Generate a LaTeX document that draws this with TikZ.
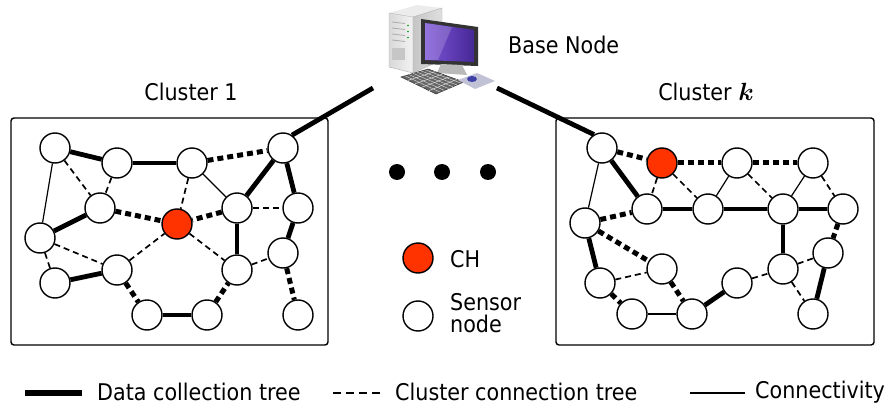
\documentclass[tikz,border=0pt]{standalone}
\usepackage{amsmath}
\usepackage{fontspec}
\setmainfont{DejaVu Sans Condensed}
\usetikzlibrary{calc}
\definecolor{chred}{RGB}{255,51,0}
\begin{document}
\begin{tikzpicture}[x=1pt,y=-1pt,
  sn/.style={circle,draw,line width=1.4pt,fill=white,minimum size=30pt,inner sep=0pt},
  ch/.style={sn,fill=chred},
  tree/.style={line width=4.8pt},
  link/.style={line width=1.2pt},
  cct/.style={line width=1.7pt,dash pattern=on 6pt off 4pt},
  bridge/.style={line width=5pt,dash pattern=on 6pt off 4pt},
  lbl/.style={font=\fontsize{23}{27}\selectfont,inner sep=0pt},
  cbox/.style={draw,line width=1.4pt,rounded corners=3pt}]
\useasboundingbox (0,0) rectangle (886,406);

% cluster frames
\draw[cbox] (11,118) rectangle (328,345);
\draw[cbox] (556,118) rectangle (874,345);

% cluster 1 nodes
\node[sn] (A) at (55,148) {};
\node[sn] (B) at (117,163) {};
\node[sn] (C) at (192,163) {};
\node[sn] (D) at (283,148) {};
\node[sn] (E) at (100,208) {};
\node[ch] (F) at (177,224) {};
\node[sn] (G) at (237,208) {};
\node[sn] (H) at (298,208) {};
\node[sn] (I) at (40,238) {};
\node[sn] (J) at (283,253) {};
\node[sn] (K) at (117,270) {};
\node[sn] (L) at (237,270) {};
\node[sn] (M) at (55,283) {};
\node[sn] (N) at (147,315) {};
\node[sn] (O) at (207,315) {};
\node[sn] (P) at (298,315) {};

% cluster 1 links
\foreach \u/\v in {A/B,B/C,D/G,D/H,H/J,E/I,K/M,G/L,N/O}
  \draw[tree] (\u) -- (\v);
\foreach \u/\v in {C/D,E/F,G/F,K/N,O/L,J/P}
  \draw[bridge] (\u) -- (\v);
\foreach \u/\v in {A/E,B/E,C/F,G/H,I/K,I/M,K/F,F/L,L/J}
  \draw[cct] (\u) -- (\v);
\foreach \u/\v in {A/I,C/G}
  \draw[link] (\u) -- (\v);

% cluster k nodes
\node[sn] (a) at (602,148) {};
\node[ch] (b) at (662,163) {};
\node[sn] (c) at (737,163) {};
\node[sn] (d) at (813,163) {};
\node[sn] (e) at (647,209) {};
\node[sn] (f) at (708,209) {};
\node[sn] (g) at (783,209) {};
\node[sn] (h) at (843,209) {};
\node[sn] (i) at (585,223) {};
\node[sn] (j) at (828,253) {};
\node[sn] (k) at (662,269) {};
\node[sn] (l) at (783,269) {};
\node[sn] (m) at (737,283) {};
\node[sn] (n) at (600,283) {};
\node[sn] (o) at (632,314) {};
\node[sn] (p) at (692,314) {};
\node[sn] (q) at (813,314) {};

% cluster k links
\foreach \u/\v in {a/e,e/f,f/g,g/h,i/n,p/m,l/g,j/q}
  \draw[tree] (\u) -- (\v);
\foreach \u/\v in {a/b,b/c,c/d,i/e,i/k,n/o,k/p,h/j}
  \draw[bridge] (\u) -- (\v);
\foreach \u/\v in {b/e,b/f,c/g,d/h,n/k,m/l,l/j,l/q}
  \draw[cct] (\u) -- (\v);
\foreach \u/\v in {a/i,c/f,d/g,o/p}
  \draw[link] (\u) -- (\v);

% base station computer
\fill[gray!15] (389,13) -- (417,5) -- (442,8) -- (413,17) -- cycle;
\shade[left color=gray!30,right color=gray!10,draw=gray!60,line width=0.4pt]
  (389,13) -- (413,17) -- (413,73) -- (389,67) -- cycle;
\shade[left color=gray!45,right color=gray!25,draw=gray!60,line width=0.4pt]
  (413,17) -- (442,8) -- (442,60) -- (413,73) -- cycle;
\foreach \yy in {22,28,34,40}
  \draw[gray!65,line width=0.8pt] (392,\yy) -- (405,\yy+1.5);
\foreach \yy in {24,30,36}
  \fill[green!60!black] (408,\yy+1.5) circle (0.9pt);
\fill[gray!45] (392,48) rectangle (405,60);
\fill[black!80] (421,19) -- (478,27) -- (478,66) -- (421,64) -- cycle;
\shade[left color={rgb,255:red,125;green,85;blue,215},right color={rgb,255:red,70;green,40;blue,150}]
  (425,23) -- (474,30) -- (474,62) -- (425,60) -- cycle;
\fill[white,opacity=0.18] (425,23) -- (452,27) -- (438,60) -- (425,60) -- cycle;
\fill[gray!55] (441,64) -- (462,65) -- (467,75) -- (437,73) -- cycle;
\fill[black!60,draw=black!80,line width=0.5pt]
  (401,77) -- (428,69) -- (464,82) -- (436,94) -- cycle;
\foreach \t in {0.2,0.4,0.6,0.8}
  \draw[gray!25,line width=0.5pt] ($(401,77)!\t!(436,94)$) -- ($(428,69)!\t!(464,82)$);
\foreach \t in {0.15,0.3,0.45,0.6,0.75,0.9}
  \draw[gray!25,line width=0.4pt] ($(401,77)!\t!(428,69)$) -- ($(436,94)!\t!(464,82)$);
\fill[blue!20!gray!40] (458,80) -- (477,73) -- (495,81) -- (475,89) -- cycle;
\fill[blue!55!black!75] (472,79) ellipse (5pt and 3pt);
\coordinate (bl) at (373,88);
\coordinate (br) at (497,88);
\draw[tree] (D.55) -- (bl);
\draw[tree] (br) -- (a.121);

% labels
\node[lbl] (t1) at (191,92) {Cluster 1};
\node[lbl] (tk) at (706,92) {Cluster $\boldsymbol{k}$};
\node[lbl,anchor=west] (tb) at (508,45) {Base Node};

% ellipsis dots
\foreach \xx/\nm in {397/d1,442/d2,488/d3}
  \fill (\xx,172) circle (8pt) coordinate (\nm);

% node legend
\node[ch] (lch) at (418,258) {};
\node[lbl,anchor=west] (tch) at (450,259) {CH};
\node[sn] (lsn) at (418,316) {};
\node[lbl,anchor=west,align=left,font=\fontsize{23}{22}\selectfont] (tsn) at (450,313) {Sensor\\node};

% edge legend
\coordinate (k1a) at (25,393); \coordinate (k1b) at (82,393);
\coordinate (k2a) at (333,393); \coordinate (k2b) at (384,393);
\coordinate (k3a) at (690,393); \coordinate (k3b) at (745,393);
\draw[line width=6pt] (k1a) -- (k1b);
\draw[line width=2pt,dash pattern=on 8pt off 5pt] (k2a) -- (k2b);
\draw[line width=1.5pt] (k3a) -- (k3b);
\node[lbl,anchor=west] (l1) at (97,392) {Data collection tree};
\node[lbl,anchor=west] (l2) at (395,392) {Cluster connection tree};
\node[lbl,anchor=west] (l3) at (755,392) {Connectivity};
\end{tikzpicture}
\end{document}
